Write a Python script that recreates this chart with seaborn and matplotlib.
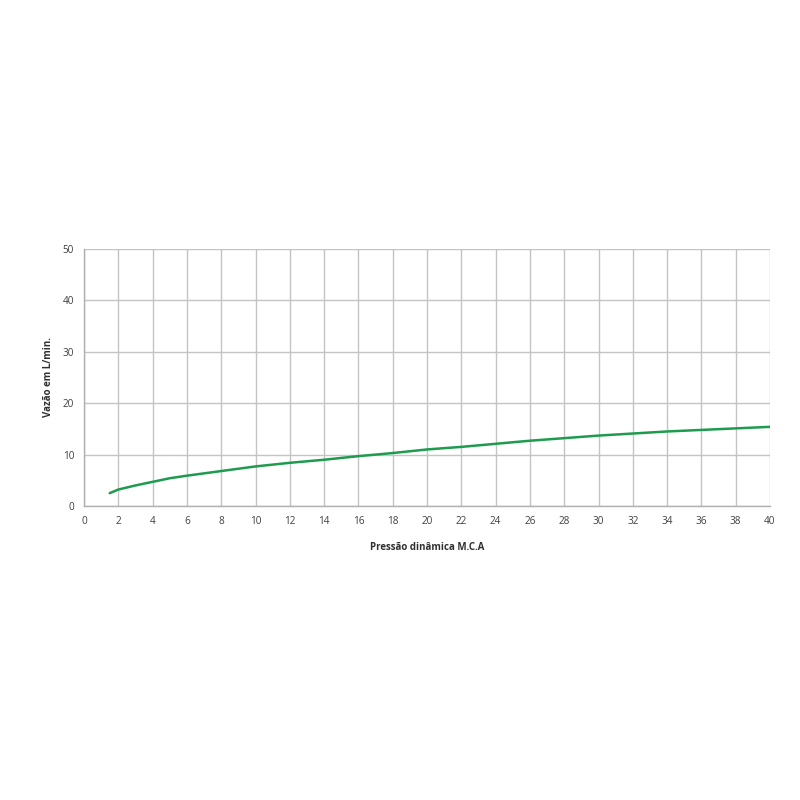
import numpy as np
import pandas as pd
import matplotlib
matplotlib.use("Agg")
import matplotlib.pyplot as plt
import seaborn as sns

# curve
pressao = [1.5, 2, 3, 4, 5, 6, 8, 10, 12, 14, 16, 18, 20, 22, 24, 26, 28, 30, 32, 34, 36, 38, 40]
vazao = [2.5, 3.2, 4.0, 4.7, 5.4, 5.9, 6.8, 7.7, 8.4, 9.0, 9.7, 10.3, 11.0, 11.5, 12.1, 12.7, 13.2, 13.7, 14.1, 14.5, 14.8, 15.1, 15.4]
x_ticks = list(range(0, 41, 2))
y_ticks = [0, 10, 20, 30, 40, 50]

df = pd.DataFrame({"pressao": pressao, "vazao": vazao})

sns.set_theme(style="white")
plt.rcParams["font.family"] = ["Open Sans", "DejaVu Sans"]

fig = plt.figure(figsize=(8, 8), dpi=100)
ax = fig.add_axes([0.105, 0.3675, 0.8575, 0.32125])

sns.lineplot(data=df, x="pressao", y="vazao", ax=ax, color="#1e9b4e", linewidth=1.8)

ax.set_xlim(0, 40)
ax.set_ylim(0, 50)
ax.set_xticks(x_ticks)
ax.set_yticks(y_ticks)
ax.grid(True, color="#c4c4c4", linewidth=1.0)
ax.set_axisbelow(True)
for side in ["top", "right"]:
    ax.spines[side].set_visible(False)
for side in ["left", "bottom"]:
    ax.spines[side].set_color("#b0b0b0")
    ax.spines[side].set_linewidth(1.0)
ax.tick_params(axis="both", labelsize=7.2, colors="#404040", length=4, width=1.0, direction="out", pad=3)
ax.tick_params(axis="both", color="#b0b0b0")

ax.set_xlabel("Pressão dinâmica M.C.A", fontsize=7, fontweight="bold", color="#303030", labelpad=11)
ax.set_ylabel("Vazão em L/min.", fontsize=7, fontweight="bold", color="#303030", labelpad=6)

fig.savefig("out.png", dpi=100, facecolor="white")
